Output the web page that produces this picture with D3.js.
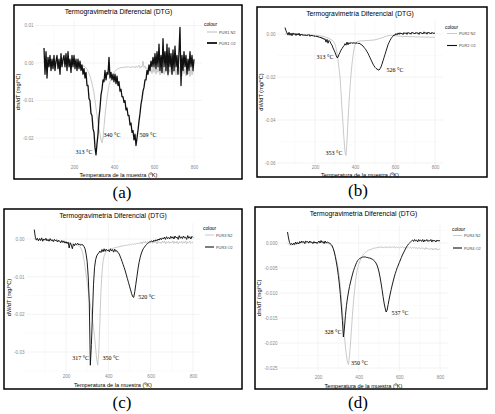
<!DOCTYPE html>
<html><head><meta charset="utf-8">
<script src="https://cdn.jsdelivr.net/npm/d3@7"></script>
<style>body{margin:0;background:#fff} svg{display:block}</style>
</head><body>
<svg id="chart" width="495" height="414"></svg>
<script>
// ---------------- DATA ----------------
// temperature grid (°C), one reading every 5 °C from 50 to 800
const temperatures = d3.range(50, 801, 5);
// DTG values are given in units of 1e-3 mg/°C
const MILLI = 1e-3;

const xTicks = [200, 400, 600, 800];
const xTickLabels = ["200", "400", "600", "800"];

const yTicksA = [0.01, 0, -0.01, -0.02];
const yLabelsA = ["0.01", "0.00", "-0.01", "-0.02"];
const yTicksB = [0, -0.02, -0.04, -0.06];
const yLabelsB = ["0.00", "-0.02", "-0.04", "-0.06"];
const yTicksC = [0, -0.01, -0.02, -0.03];
const yLabelsC = ["0.00", "-0.01", "-0.02", "-0.03"];
const yTicksD = [0, -0.005, -0.01, -0.015, -0.02, -0.025];
const yLabelsD = ["0.000", "-0.005", "-0.010", "-0.015", "-0.020", "-0.025"];

const seriesNamesA = ["PUR1 N2", "PUR1 O2"];
const seriesNamesB = ["PUR2 N2", "PUR2 O2"];
const seriesNamesC = ["PUR3 N2", "PUR3 O2"];
const seriesNamesD = ["PUR4 N2", "PUR4 O2"];

const peakLabelsA = ["313 °C", "340 °C", "509 °C"];
const peakLabelsB = ["313 °C", "526 °C", "353 °C"];
const peakLabelsC = ["317 °C", "350 °C", "520 °C"];
const peakLabelsD = ["328 °C", "350 °C", "537 °C"];

const a_n2 = [
 0.5,-0.5,0.3,-0.8,0.6,-0.4,0.2,-0.6,0.5,-0.3,
 0.4,-0.5,0.3,-0.2,0.6,-0.4,0.1,-0.5,0.4,-0.3,
 0.3,-0.4,0.5,-0.3,0.2,-0.5,0.4,-0.2,0.1,-0.4,
 0.2,-0.3,0.1,-0.4,0,-0.5,-0.3,-0.6,-0.5,-0.8,
 -0.8,-1.0,-1.3,-1.7,-2.2,-2.8,-3.5,-4.4,-5.5,-6.7,
 -8,-10,-12,-14,-16,-17.5,-19,-20.5,-21.3,-20,
 -17,-14,-11.5,-9.5,-7.5,-6,-5,-4.2,-3.6,-3,
 -2.6,-2.2,-1.9,-1.7,-1.5,-1.4,-1.3,-1.2,-1.3,-1.1,
 -1.2,-1.0,-1.2,-1.1,-0.9,-1.2,-1.0,-1.3,-0.9,-1.1,
 -1.0,-1.3,-0.8,-1.2,-1.0,-0.6,-1.4,-0.9,-1.1,0.5,
 -1.2,-0.8,-1.5,-1.2,-2,-1,-2.5,-1.5,-2.8,-1.2,
 -2.5,-1,-3,-1.5,-2.5,-0.8,-3.2,-1.5,-2.8,-1,
 -3,-1.5,-2.5,-0.8,-3.5,-1.5,-2.5,-1,-3,-1.8,
 -2.5,-0.8,-3.2,-1.5,-2.8,-1,-3,-1.5,-3.5,-1.2,
 -2.8,-1.5,-3.5,-1,-3,-1.8,-3.6,-1.2,-3.2,-2,
 -2.5];
const a_o2 = [
 4,-3,3,-4,1.5,-1,2,-2,1,-1.5,
 2,-2,0.5,2,-1.5,1,-3,2.5,-1,1,
 2,-1,2.5,-2,3,-1,1,-2.5,2,-1,
 2,-1.5,1,-2,1,-1.5,0.5,-2,-0.5,-3,
 -1.5,-4,-2.5,-6,-6,-9.5,-10,-13.5,-14,-17.5,
 -18.5,-22.5,-24.5,-21.5,-19,-14.5,-12,-8.5,-7,-4.5,
 -5,-2,-4.5,-2.5,-3,1.5,-4,-2.5,-4.5,-3,
 -5,-3,-5.5,-3.5,-6,-5,-7.5,-7,-9,-9,
 -10.5,-10,-12.5,-12,-14,-14,-16.5,-16,-18.5,-18,
 -20.5,-19,-22,-20,-18,-15.5,-13.5,-11,-9.5,-7.5,
 -6.5,-4.5,-4.5,-2,-3,-0.5,-2,0.5,-1,1.5,
 -1,2.5,-1.5,3,-1,5,-2,2,-2.5,6.5,
 -1,3,-2,5,-3,4,-1,2.5,-3,3.5,
 -2,4.5,-1,2,-3,3,9.5,-6,2,-2,
 3,-1,2,-3,1,-2,3,-1,2,-2,
 1];
const b_n2 = [
 0,0.2,-0.1,0.1,-0.2,0,-0.1,0.1,-0.2,-0.1,
 -0.1,-0.2,0,-0.3,-0.1,-0.2,-0.3,-0.1,-0.3,-0.2,
 -0.3,-0.4,-0.2,-0.4,-0.3,-0.5,-0.4,-0.5,-0.6,-0.5,
 -0.6,-0.7,-0.6,-0.8,-0.7,-0.9,-0.9,-1.0,-1.1,-1.2,
 -1.3,-1.5,-1.7,-1.9,-2.1,-2.3,-2.6,-2.9,-3.2,-3.8,
 -4.8,-6.5,-9,-12,-16,-20,-27,-35,-42,-49,
 -55,-56.5,-50,-40,-32,-25,-19,-14,-10,-7,
 -5,-4,-3.6,-3.4,-3.3,-3.3,-3.2,-3.2,-3.2,-3.1,
 -3.1,-3.1,-3.0,-3.0,-3.0,-2.9,-2.9,-2.9,-2.8,-2.8,
 -2.7,-2.6,-2.5,-2.3,-2.2,-2.0,-1.9,-1.7,-1.6,-1.4,
 -1.2,-1.1,-0.9,-0.8,-0.7,-0.6,-0.6,-0.6,-0.7,-0.7,
 -0.8,-0.8,-0.9,-0.9,-1.0,-1.0,-1.0,-1.1,-1.1,-1.1,
 -1.2,-1.1,-1.2,-1.2,-1.3,-1.2,-1.3,-1.3,-1.2,-1.3,
 -1.3,-1.4,-1.3,-1.4,-1.4,-1.3,-1.4,-1.5,-1.4,-1.4,
 -1.5,-1.4,-1.5,-1.5,-1.4,-1.5,-1.6,-1.5,-1.5,-1.6,
 -1.5];
const b_o2 = [
 3,1.5,0.5,-0.5,0.8,-0.6,0.4,-0.8,0.5,-0.3,
 0.3,-0.7,0.2,-0.5,0.4,-0.9,0,-0.6,-0.2,-0.8,
 -0.3,-0.9,-0.4,-0.7,-0.2,-1.1,-0.5,-0.9,-0.6,-1.2,
 -0.8,-1.3,-0.9,-1.5,-1.2,-1.8,-1.4,-2.2,-1.8,-2.6,
 -2.2,-3.8,-2.5,-4.3,-3,-3.5,-4.5,-5.2,-6.5,-7.5,
 -8.5,-9.8,-11,-10.8,-9.5,-8.5,-7.5,-6.8,-6,-5.5,
 -4.5,-5.2,-3.8,-5,-4,-4.6,-3.9,-4.4,-4,-4.3,
 -4.1,-4.4,-4,-4.5,-4.2,-4.6,-4.8,-5.2,-5.6,-6.2,
 -6.8,-7.4,-8.2,-9,-10,-11,-12,-13,-14,-14.8,
 -15.5,-16,-16.3,-16.6,-16.8,-16.2,-15.3,-14,-12.5,-11,
 -9.5,-8,-6.5,-5,-4,-3,-2.2,-1.5,-1,-0.4,
 -0.6,0.2,-0.4,0.5,-0.2,0.6,0,0.4,-0.3,0.7,
 0.1,0.6,-0.2,0.8,0.2,0.5,-0.1,0.9,0.3,0.5,
 0,0.8,0.2,0.6,-0.2,0.9,0.3,0.5,0,1,
 0.2,0.7,-0.1,0.9,0.3,0.6,0,0.8,0.2,0.5,
 0.3];
const c_n2 = [
 0,0.1,-0.2,0,-0.3,-0.1,-0.2,0,-0.3,-0.1,
 -0.2,-0.3,-0.1,-0.4,-0.2,-0.3,-0.5,-0.3,-0.4,-0.5,
 -0.4,-0.6,-0.5,-0.7,-0.6,-0.8,-0.7,-0.9,-0.8,-1.0,
 -0.9,-1.1,-1.0,-1.2,-1.1,-1.3,-1.3,-1.4,-1.5,-1.5,
 -1.6,-1.7,-1.8,-2.0,-2.4,-3.0,-4.0,-5.5,-7.5,-9.5,
 -11.5,-13.5,-15.5,-17.5,-19.5,-21.5,-23.5,-26,-29,-32,
 -33.5,-30,-22,-14,-9,-6,-4.5,-3.8,-3.4,-3.1,
 -2.9,-2.8,-2.7,-2.6,-2.5,-2.4,-2.3,-2.3,-2.2,-2.1,
 -2.1,-2.0,-1.9,-1.9,-1.8,-1.8,-1.7,-1.6,-1.7,-1.5,
 -1.6,-1.4,-1.5,-1.3,-1.4,-1.2,-1.4,-1.1,-1.3,-1.0,
 -1.2,-0.8,-1.3,-0.7,-1.1,-0.6,-1.2,-0.7,-1.0,-0.5,
 -1.1,-0.6,-1.2,-0.5,-1.0,-0.7,-1.3,-0.6,-1.1,-0.8,
 -1.2,-0.6,-1.0,-0.5,-1.3,-0.7,-1.1,-0.6,-1.2,-0.8,
 -1.0,-0.5,-1.2,-0.7,-1.1,-0.6,-1.3,-0.8,-1.0,-0.6,
 -1.2,-0.7,-1.1,-0.5,-1.3,-0.8,-1.0,-0.6,-1.2,-0.9,
 -1.0];
const c_o2 = [
 2.5,0.5,-0.3,0.2,-0.5,0.1,-0.4,0.3,-0.6,0,
 -0.3,0.2,-0.5,-0.1,-0.6,0.1,-0.4,-0.2,-0.7,-0.1,
 -0.5,-0.2,-0.8,-0.3,-0.6,-1,-0.4,-0.9,-0.5,-1.1,
 -0.7,-1.2,-0.8,-2.4,-1,-1.6,-2.6,-1.3,-1.8,-1.2,
 -1.5,-1.1,-1.6,-1.3,-1.7,-1.4,-1.6,-2,-2.6,-4,
 -6,-10,-17,-33.5,-28,-20,-12,-7.5,-5.5,-4.5,
 -4,-3.7,-3.2,-3.6,-2.8,-3.4,-2.6,-3.3,-2.7,-3.1,
 -2.9,-3.4,-2.6,-3.2,-2.8,-3.5,-2.7,-3.3,-3.1,-3.6,
 -3.8,-4.5,-5.2,-6,-6.8,-7.6,-8.5,-9.5,-10.5,-11.5,
 -12.5,-13.5,-14.5,-15.3,-15.5,-14,-12,-10,-8,-6.3,
 -5,-4,-3.2,-2.6,-2.2,-1.8,-1.5,-1.2,-1,-0.8,
 -0.7,-0.5,-0.8,-0.3,-0.6,-0.2,-0.5,0,-0.3,0.2,
 -0.2,0.3,0,0.5,-0.1,0.6,0.1,0.4,0,0.7,
 0.2,0.6,0,0.8,0.3,0.5,-0.1,0.9,0.2,0.6,
 0.1,0.8,0.3,0.5,-0.1,0.9,0.2,0.6,0,0.7,
 0.4];
const d_n2 = [
 0,-0.2,-0.4,-0.3,-0.5,-0.3,-0.2,-0.4,-0.1,-0.3,
 0,-0.2,0.1,-0.1,0.2,0,0.1,-0.2,0.1,0,
 0.1,-0.1,0.2,0,0.1,-0.1,0.1,0,0,-0.1,
 0,0.1,-0.1,0.2,0,0.1,-0.1,0,0,-0.1,
 -0.1,-0.2,-0.3,-0.5,-0.8,-1.2,-1.8,-2.5,-3.3,-4.2,
 -5.2,-6.8,-8.7,-11,-13.5,-16,-18.5,-20.8,-22.6,-23.8,
 -24.3,-22.5,-20,-17,-14,-11.5,-9.5,-7.5,-6,-5,
 -4.3,-3.7,-3.2,-2.8,-2.5,-2.2,-2,-1.8,-1.7,-1.5,
 -1.4,-1.3,-1.3,-1.2,-1.1,-1.0,-1.1,-0.9,-1.0,-0.8,
 -0.9,-0.8,-0.9,-0.7,-1.0,-0.8,-0.9,-0.7,-1.0,-0.8,
 -0.9,-0.7,-1.0,-0.8,-0.9,-0.7,-1.0,-0.8,-0.9,-0.8,
 -1.0,-0.8,-0.9,-0.7,-1.0,-0.8,-1.1,-0.9,-1.0,-0.8,
 -1.0,-0.8,-1.1,-0.9,-1.0,-0.8,-1.1,-0.9,-1.2,-0.9,
 -1.0,-1.2,-0.9,-1.1,-1.0,-1.3,-0.9,-1.2,-1.0,-1.3,
 -1.1,-1.3,-1.0,-1.4,-1.1,-1.3,-1.0,-1.4,-1.2,-1.3,
 -1.2];
const d_o2 = [
 2.2,1,0.1,-0.3,-0.1,-0.4,0,-0.3,0.2,-0.2,
 0.1,-0.2,0.3,0,0.4,0.1,0.3,-0.1,0.4,0.2,
 0.3,0,0.4,0.1,0.2,-0.1,0.3,0,0.2,-0.1,
 0.2,0.4,0,0.5,0.1,0.3,-0.1,0.4,0,0.2,
 0.1,0,-0.1,-0.3,-0.6,-1.1,-1.8,-2.7,-3.8,-5,
 -6.5,-8.2,-10.3,-12.8,-15.5,-18.8,-17,-14.5,-12.5,-11,
 -9.8,-8.7,-7.8,-7,-6.2,-5.5,-4.9,-4.4,-3.9,-3.5,
 -3.3,-3.1,-3,-2.9,-2.8,-2.8,-2.8,-2.8,-2.9,-2.9,
 -3,-3,-3.1,-3.2,-3.3,-3.5,-3.7,-4,-4.4,-5,
 -5.8,-6.8,-8,-9.3,-10.7,-12,-13,-13.8,-13.4,-12.3,
 -11.2,-10.2,-9.3,-8.4,-7.6,-6.8,-6.1,-5.5,-4.9,-4.4,
 -3.9,-3.4,-2.9,-2.4,-2,-1.6,-1.2,-0.8,-0.5,-0.2,
 0,0.2,0.4,0.6,0.3,0.7,0.4,0.6,0.2,0.7,
 0.4,0.6,0.3,0.7,0.2,0.6,0.4,0.7,0.3,0.5,
 0.4,0.7,0.2,0.6,0.4,0.5,0.2,0.6,0.4,0.5,
 0.4];

// ---------------- LAYOUT ----------------
const panels = [
 { n2: a_n2, o2: a_o2, names: seriesNamesA, yTicks: yTicksA, yLabels: yLabelsA, peaks: peakLabelsA,
   yTitle: "dm/dT (mg/°C)", caption: "(a)",
   L: { frame: [14, 5, 242, 179], x200: 74, x800: 194, yRef: [0, 63, -0.02, 138],
        box: [35, 21, 202, 163], yTitleX: 18, xLabY: 168, xTitleY: 175, o2w: 1.3,
        leg: { x: 204, y: 24, rows: [32, 43], k0: 207, k1: 217, tx: 219, kw: [1, 1.8] },
        peakPos: [[250, -23.7], [390, -19.2], [570, -19.2]], cap: [122, 192] } },
 { n2: b_n2, o2: b_o2, names: seriesNamesB, yTicks: yTicksB, yLabels: yLabelsB, peaks: peakLabelsB,
   yTitle: "dW/dT (mg/°C)", caption: "(b)",
   L: { frame: [257, 7, 487, 177], x200: 315, x800: 435, yRef: [0, 34, -0.06, 163],
        box: [277, 20, 443, 164], yTitleX: 261, xLabY: 168, xTitleY: 174.5, o2w: 0.95,
        leg: { x: 445, y: 27, rows: [33.5, 45.5], k0: 447, k1: 457, tx: 459, kw: [0.8, 1.1] },
        peakPos: [[250, -10.6], [600, -16.6], [295, -55.4]], cap: [358, 190] } },
 { n2: c_n2, o2: c_o2, names: seriesNamesC, yTicks: yTicksC, yLabels: yLabelsC, peaks: peakLabelsC,
   yTitle: "dW/dT (mg/°C)", caption: "(c)",
   L: { frame: [4, 209, 242, 389], x200: 66, x800: 193, yRef: [0, 239, -0.03, 352],
        box: [26, 223, 200, 372], yTitleX: 9, xLabY: 377, xTitleY: 385, o2w: 0.95,
        leg: { x: 203, y: 228, rows: [235, 247], k0: 205, k1: 214, tx: 216, kw: [0.8, 1.1] },
        peakPos: [[269, -31.6], [412, -31.6], [581, -15.4]], cap: [122, 402] } },
 { n2: d_n2, o2: d_o2, names: seriesNamesD, yTicks: yTicksD, yLabels: yLabelsD, peaks: peakLabelsD,
   yTitle: "dm/dT (mg/°C)", caption: "(d)",
   L: { frame: [255, 207, 487, 389], x200: 318, x800: 440, yRef: [0, 243, -0.025, 368],
        box: [279, 225, 448, 371], yTitleX: 259, xLabY: 378, xTitleY: 386, o2w: 0.95,
        leg: { x: 452, y: 229, rows: [235.5, 248], k0: 453, k1: 462, tx: 464, kw: [0.8, 1.1] },
        peakPos: [[274, -17.8], [404, -24], [603, -14]], cap: [358, 402] } }
];

const SANS = "'Liberation Sans', Arial, Helvetica, sans-serif";
const SERIF = "'Liberation Serif', 'Times New Roman', serif";
const GREY = "#bdbdbd", BLACK = "#111";
const svg = d3.select("#chart");

function drawPanel(p) {
  const L = p.L;
  const g = svg.append("g");
  const x = d3.scaleLinear().domain([200, 800]).range([L.x200, L.x800]);
  const y = d3.scaleLinear().domain([L.yRef[0], L.yRef[2]]).range([L.yRef[1], L.yRef[3]]);
  const [bl, bt, br, bb] = L.box;

  // minor grid
  const xMinor = [100, 300, 500, 700].filter(v => x(v) >= bl && x(v) <= br);
  const yStep = p.yTicks[0] - p.yTicks[1];
  const yMinor = [];
  for (let i = 0; i < p.yTicks.length + 1; i++) {
    const v = p.yTicks[0] + yStep / 2 - i * yStep;
    if (y(v) >= bt && y(v) <= bb) yMinor.push(v);
  }
  g.selectAll(".xmin").data(xMinor).join("line")
    .attr("x1", d => x(d)).attr("x2", d => x(d)).attr("y1", bt).attr("y2", bb)
    .attr("stroke", "#f4f4f4").attr("stroke-width", 0.35);
  g.selectAll(".ymin").data(yMinor).join("line")
    .attr("y1", d => y(d)).attr("y2", d => y(d)).attr("x1", bl).attr("x2", br)
    .attr("stroke", "#f4f4f4").attr("stroke-width", 0.35);
  // major grid
  g.selectAll(".xmaj").data(xTicks).join("line")
    .attr("x1", d => x(d)).attr("x2", d => x(d)).attr("y1", bt).attr("y2", bb)
    .attr("stroke", "#ebebeb").attr("stroke-width", 0.6);
  g.selectAll(".ymaj").data(p.yTicks).join("line")
    .attr("y1", d => y(d)).attr("y2", d => y(d)).attr("x1", bl).attr("x2", br)
    .attr("stroke", "#ebebeb").attr("stroke-width", 0.6);

  // axes (labels only)
  const ax = g.append("g").attr("transform", `translate(0,${L.xLabY - 2.5})`)
    .call(d3.axisBottom(x).tickValues(xTicks).tickSize(0).tickPadding(0)
      .tickFormat((d, i) => xTickLabels[i]));
  const ay = g.append("g").attr("transform", `translate(${bl - 1.5},0)`)
    .call(d3.axisLeft(y).tickValues(p.yTicks).tickSize(0).tickPadding(0)
      .tickFormat((d, i) => p.yLabels[i]));
  [ax, ay].forEach(a => {
    a.select(".domain").remove();
    a.selectAll("text").attr("font-family", SANS).attr("font-size", 4.6).attr("fill", "#8a8a8a");
  });

  // lines
  const line = d3.line().x((d, i) => x(temperatures[i])).y(d => y(d * MILLI));
  g.append("path").datum(p.n2).attr("d", line).attr("fill", "none")
    .attr("stroke", GREY).attr("stroke-width", 0.8).attr("stroke-linejoin", "round");
  g.append("path").datum(p.o2).attr("d", line).attr("fill", "none")
    .attr("stroke", BLACK).attr("stroke-width", L.o2w).attr("stroke-linejoin", "round");

  // peak annotations
  g.selectAll(".peak").data(p.peaks).join("text")
    .attr("x", (d, i) => x(L.peakPos[i][0])).attr("y", (d, i) => y(L.peakPos[i][1] * MILLI))
    .attr("text-anchor", "middle").attr("dominant-baseline", "central")
    .attr("font-family", SERIF).attr("font-size", 6).attr("fill", "#000").text(d => d);

  // titles
  const cx = (bl + br) / 2, cy = (bt + bb) / 2;
  g.append("text").attr("x", cx).attr("y", L.frame[1] + 6.5)
    .attr("text-anchor", "middle").attr("dominant-baseline", "central")
    .attr("font-family", SANS).attr("font-size", 6.8).attr("fill", "#000")
    .text("Termogravimetría Diferencial (DTG)");
  g.append("text").attr("x", cx).attr("y", L.xTitleY)
    .attr("text-anchor", "middle").attr("dominant-baseline", "central")
    .attr("font-family", SANS).attr("font-size", 5.6).attr("fill", "#000")
    .text("Temperatura de la muestra (ºK)");
  g.append("text").attr("transform", `translate(${L.yTitleX},${cy}) rotate(-90)`)
    .attr("text-anchor", "middle").attr("dominant-baseline", "central")
    .attr("font-family", SANS).attr("font-size", 5.6).attr("fill", "#000")
    .text(p.yTitle);

  // legend
  const lg = L.leg;
  g.append("text").attr("x", lg.x).attr("y", lg.y).attr("dominant-baseline", "central")
    .attr("font-family", SANS).attr("font-size", 4.8).attr("fill", "#000").text("colour");
  const colors = [GREY, BLACK];
  p.names.forEach((nm, i) => {
    g.append("line").attr("x1", lg.k0).attr("x2", lg.k1).attr("y1", lg.rows[i]).attr("y2", lg.rows[i])
      .attr("stroke", colors[i]).attr("stroke-width", lg.kw[i]);
    g.append("text").attr("x", lg.tx).attr("y", lg.rows[i]).attr("dominant-baseline", "central")
      .attr("font-family", SANS).attr("font-size", 3.9).attr("fill", "#444").text(nm);
  });

  // frame
  const f = L.frame;
  g.append("rect").attr("x", f[0]).attr("y", f[1]).attr("width", f[2] - f[0]).attr("height", f[3] - f[1])
    .attr("fill", "none").attr("stroke", "#000").attr("stroke-width", 1.5);

  // caption
  svg.append("text").attr("x", L.cap[0]).attr("y", L.cap[1])
    .attr("text-anchor", "middle").attr("dominant-baseline", "central")
    .attr("font-family", SERIF).attr("font-size", 17).attr("fill", "#000").text(p.caption);
}

panels.forEach(drawPanel);
</script>
</body></html>
